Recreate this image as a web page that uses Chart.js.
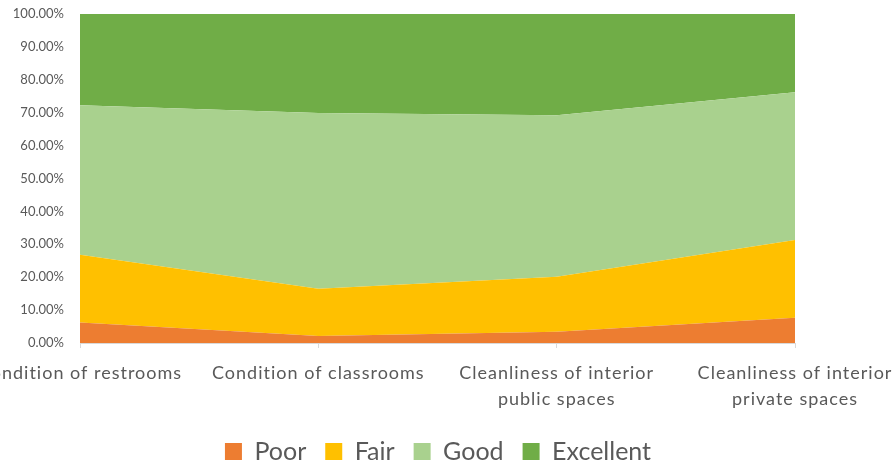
<!DOCTYPE html>
<html>
<head>
<meta charset="utf-8">
<script src="https://cdn.jsdelivr.net/npm/chart.js@4.4.0/dist/chart.umd.min.js"></script>
<style>
  html, body { margin: 0; padding: 0; background: #fff; }
  #wrap { width: 892px; height: 464px; }
</style>
</head>
<body>
<div id="wrap"><canvas id="areaChart" width="892" height="464"></canvas></div>
<script>
// categories (x axis)
const categories = [
  ["Condition of restrooms"],
  ["Condition of classrooms"],
  ["Cleanliness of interior", "public spaces"],
  ["Cleanliness of interior", "private spaces"],
];

// percent values per rating
const poor = [6.2, 2.1, 3.4, 7.7];
const fair = [20.6, 14.4, 16.7, 23.6];
const good = [45.5, 53.4, 49.1, 44.9];
const excellent = [27.7, 30.1, 30.8, 23.8];

const seriesNames = ["Poor", "Fair", "Good", "Excellent"];
const seriesColors = ["#ED7D31", "#FFC000", "#A9D18E", "#70AD47"];
const seriesData = [poor, fair, good, excellent];

const textColor = "#595959";
const fontFamily = "Lato, 'Open Sans', sans-serif";

// draw the category labels ourselves so they can run off the edge like the original
const xLabelPlugin = {
  id: "xLabels",
  afterDraw(chart) {
    const ctx = chart.ctx;
    const xScale = chart.scales.x;
    const top = xScale.top + 30;
    ctx.save();
    ctx.fillStyle = textColor;
    ctx.font = "18px " + fontFamily;
    ctx.letterSpacing = "1px";
    ctx.textAlign = "center";
    ctx.textBaseline = "middle";
    categories.forEach((lines, i) => {
      const x = xScale.getPixelForValue(i);
      lines.forEach((line, j) => {
        ctx.fillText(line, x, top + j * 26);
      });
    });
    ctx.letterSpacing = "0px";
    ctx.restore();
  },
};

const datasets = seriesData.map((data, index) => ({
  label: seriesNames[index],
  data: data,
  backgroundColor: seriesColors[index],
  borderColor: seriesColors[index],
  borderWidth: 0,
  pointRadius: 0,
  tension: 0,
  fill: index === 0 ? "origin" : "-1",
}));

const ctx = document.getElementById("areaChart").getContext("2d");
new Chart(ctx, {
  type: "line",
  data: {
    labels: categories.map((c) => c.join(" ")),
    datasets: datasets,
  },
  plugins: [xLabelPlugin],
  options: {
    responsive: false,
    animation: false,
    layout: {
      autoPadding: false,
      padding: { top: 14, right: 16, left: 0, bottom: -10 },
    },
    plugins: {
      tooltip: { enabled: false },
      legend: {
        position: "bottom",
        labels: {
          boxWidth: 17,
          boxHeight: 17,
          padding: 19,
          color: textColor,
          font: { size: 25, family: fontFamily },
        },
      },
    },
    scales: {
      x: {
        offset: false,
        grid: {
          display: true,
          drawOnChartArea: false,
          drawTicks: true,
          tickLength: 5,
          color: "#d9d9d9",
        },
        border: { display: true, color: "#d9d9d9" },
        ticks: { display: false },
        afterFit(scale) {
          scale.height = 77;
        },
      },
      y: {
        stacked: true,
        min: 0,
        max: 100,
        // invisible tick marks just push the labels away from the plot
        grid: {
          display: true,
          drawOnChartArea: false,
          drawTicks: true,
          tickLength: 13,
          color: "rgba(0,0,0,0)",
        },
        border: { display: false },
        ticks: {
          stepSize: 10,
          color: textColor,
          padding: 3,
          font: { size: 13, family: fontFamily },
          callback: function (value) {
            return value.toFixed(2) + "%";
          },
        },
        afterFit(scale) {
          scale.width = 80;
        },
      },
      // empty right-side spacer so the legend centres like the original
      spacer: {
        position: "right",
        display: true,
        grid: { display: false },
        border: { display: false },
        ticks: { display: false },
        afterFit(scale) {
          scale.width = 81;
        },
      },
    },
  },
});
</script>
</body>
</html>
